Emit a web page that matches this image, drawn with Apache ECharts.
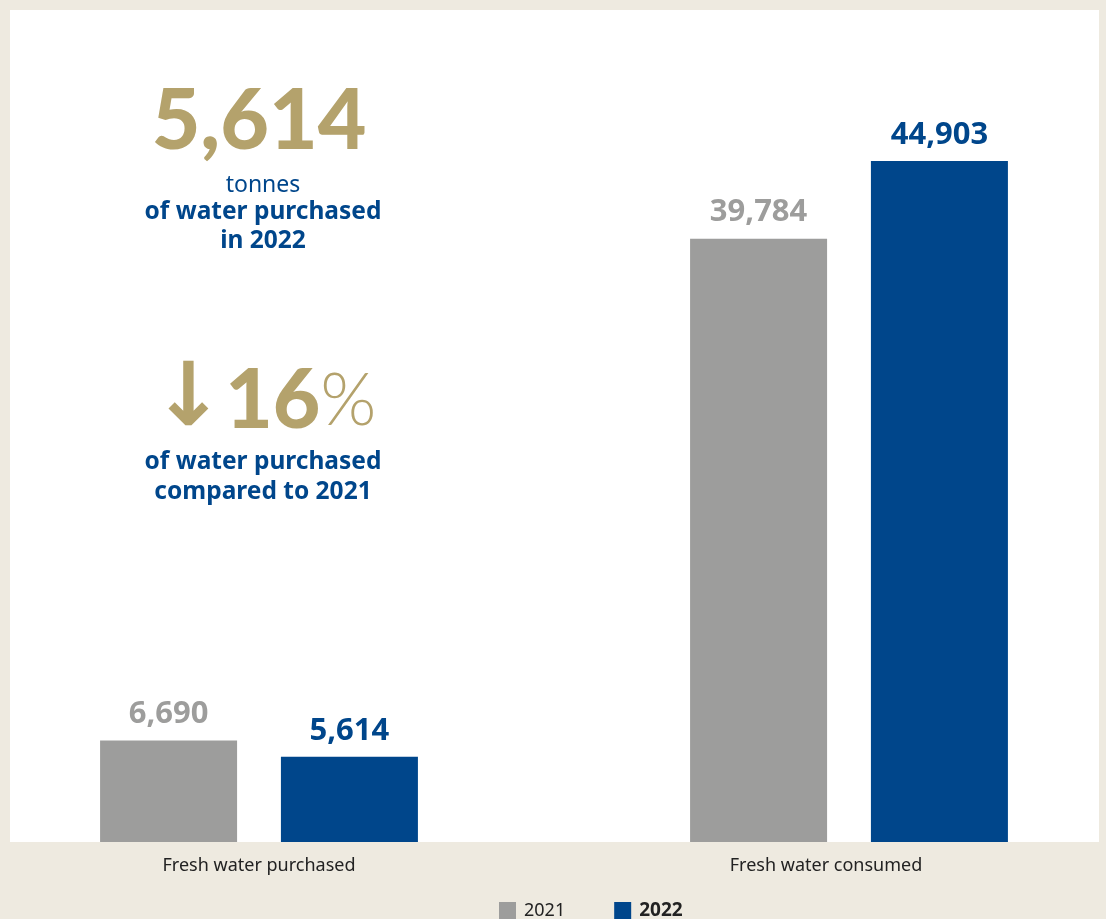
<!DOCTYPE html>
<html>
<head>
<meta charset="utf-8">
<script src="https://cdn.jsdelivr.net/npm/echarts@6/dist/echarts.min.js"></script>
<style>
  html, body { margin: 0; padding: 0; background: #eeeae0; }
  #chart { width: 1106px; height: 919px; }
</style>
</head>
<body>
<div id="chart"></div>
<script>
// Water figures (tonnes)
const categories = ['Fresh water purchased', 'Fresh water consumed'];
const seriesNames = ['2021', '2022'];
const values2021 = [6690, 39784];
const values2022 = [5614, 44903];

const GOLD = '#b4a26c';
const BLUE = '#00468b';
const GREY = '#9d9d9c';
const HEAD = 'Lato';
const BODY = 'Noto Sans';

const fmt = v => v.toLocaleString('en-US');
const purchasedNow = values2022[0];
const dropPct = Math.round((1 - values2022[0] / values2021[0]) * 100);

const chart = echarts.init(document.getElementById('chart'));

chart.setOption({
  backgroundColor: '#eeeae0',
  textStyle: { fontFamily: BODY },
  graphic: [
    {
      type: 'rect', z: -10, silent: true,
      shape: { x: 10, y: 10, width: 1089, height: 832 },
      style: { fill: '#ffffff' }
    }
  ],
  title: [
    {
      text: fmt(purchasedNow),
      left: 254, top: 74, textAlign: 'center',
      textStyle: { color: GOLD, fontSize: 84, fontWeight: 900, lineHeight: 86, fontFamily: HEAD }
    },
    {
      text: 'tonnes',
      left: 258, top: 166, textAlign: 'center',
      textStyle: { color: BLUE, fontSize: 23, fontWeight: 'normal', lineHeight: 28, fontFamily: BODY }
    },
    {
      text: 'of water purchased\nin 2022',
      left: 258, top: 193, textAlign: 'center',
      textStyle: { color: BLUE, fontSize: 24.5, fontWeight: 'bold', lineHeight: 29, fontFamily: BODY }
    },
    {
      text: '{a|↓}{n|' + dropPct + '}{p|%}',
      left: 259, top: 354, textAlign: 'center',
      textStyle: {
        rich: {
          a: { color: GOLD, fontSize: 88, fontWeight: 'bold', lineHeight: 86, fontFamily: 'DejaVu Sans' },
          n: { color: GOLD, fontSize: 82, fontWeight: 900, lineHeight: 86, fontFamily: HEAD },
          p: { color: GOLD, fontSize: 72, fontWeight: 300, lineHeight: 86, fontFamily: HEAD }
        }
      }
    },
    {
      text: 'of water purchased\ncompared to 2021',
      left: 258, top: 442, textAlign: 'center',
      textStyle: { color: BLUE, fontSize: 24.5, fontWeight: 'bold', lineHeight: 30, fontFamily: BODY }
    }
  ],
  legend: {
    left: 494, top: 896,
    itemWidth: 17, itemHeight: 17, itemGap: 49,
    icon: 'rect',
    textStyle: { color: '#222', fontSize: 18, fontFamily: BODY, padding: [0, 0, 0, 3] },
    data: [
      { name: seriesNames[0] },
      { name: seriesNames[1], textStyle: { fontWeight: 'bold', fontSize: 19 } }
    ]
  },
  grid: { left: -36, right: -38, top: 8, bottom: 77, outerBoundsMode: 'none', containLabel: false },
  xAxis: {
    type: 'category',
    data: [
      { value: categories[0] },
      { value: categories[1], textStyle: { padding: [0, 46, 0, 0] } }
    ],
    axisLine: { show: false },
    axisTick: { show: false },
    axisLabel: { color: '#222', fontSize: 18, margin: 15, fontFamily: BODY }
  },
  yAxis: {
    type: 'value', min: 0, max: 55000,
    show: false,
    splitLine: { show: false }
  },
  series: [
    {
      name: seriesNames[0], type: 'bar',
      data: values2021,
      barWidth: 137, barGap: '32%',
      itemStyle: { color: GREY },
      label: {
        show: true, position: 'top', distance: 11,
        formatter: p => fmt(p.value),
        color: GREY, fontSize: 31, fontWeight: 'bold', fontFamily: BODY
      }
    },
    {
      name: seriesNames[1], type: 'bar',
      data: values2022,
      barWidth: 137,
      itemStyle: { color: BLUE },
      label: {
        show: true, position: 'top', distance: 10,
        formatter: p => fmt(p.value),
        color: BLUE, fontSize: 31, fontWeight: 'bold', fontFamily: BODY
      }
    }
  ]
});
</script>
</body>
</html>
